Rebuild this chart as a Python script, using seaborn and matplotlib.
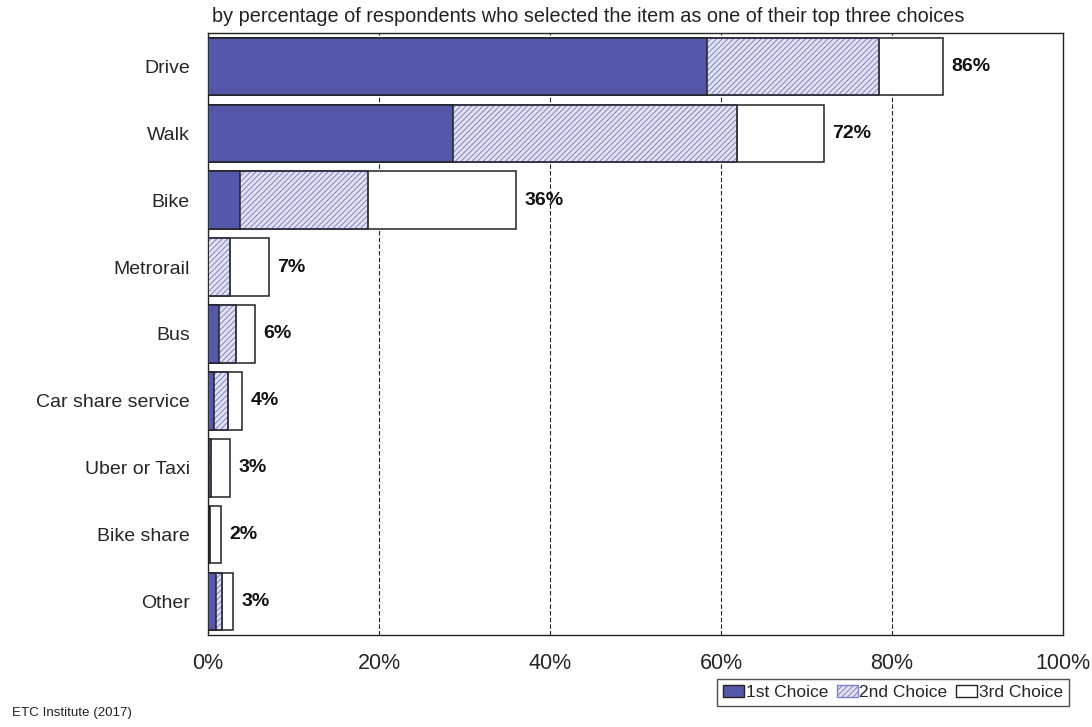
import numpy as np
import pandas as pd
import matplotlib
matplotlib.use("Agg")
import matplotlib.pyplot as plt
import matplotlib.patches as mpatches
import seaborn as sns

# data (percent of respondents)
modes = ["Drive", "Walk", "Bike", "Metrorail", "Bus", "Car share service",
         "Uber or Taxi", "Bike share", "Other"]
first = [58.4, 28.7, 3.7, 0.0, 1.3, 0.7, 0.1, 0.1, 0.9]
second = [20.1, 33.2, 15.0, 2.6, 2.0, 1.6, 0.3, 0.1, 0.7]
third = [7.5, 10.1, 17.3, 4.5, 2.2, 1.7, 2.2, 1.3, 1.3]
total_labels = ["86%", "72%", "36%", "7%", "6%", "4%", "3%", "2%", "3%"]

sns.set_style("white")
plt.rcParams["font.family"] = ["Liberation Sans", "DejaVu Sans"]
plt.rcParams["hatch.linewidth"] = 0.7

df = pd.DataFrame({"mode": modes, "first": first,
                   "second": second, "third": third})
df["c1"] = df["first"]
df["c2"] = df["first"] + df["second"]
df["c3"] = df["c2"] + df["third"]

fig = plt.figure(figsize=(10.92, 7.27), dpi=100)
ax = fig.add_axes([0.1905, 0.1266, 0.7829, 0.828])

blue = "#5558A8"
lav = "#E2E2F3"
hatch_col = "#7E82C6"
edge = "#222222"
bar_w = 0.86
# stack by overdrawing cumulative totals
sns.barplot(data=df, x="c3", y="mode", color="white", edgecolor=edge,
            linewidth=1.1, width=bar_w, ax=ax, orient="h", saturation=1,
            zorder=3)
sns.barplot(data=df, x="c2", y="mode", color=lav, edgecolor=edge,
            linewidth=1.1, width=bar_w, ax=ax, orient="h", saturation=1,
            zorder=4)
n = len(modes)
for p in ax.patches[n:2 * n]:
    p.set_hatch("//////")
    p.set_edgecolor(hatch_col)
# re-outline hatched bars in dark
for p in list(ax.patches[n:2 * n]):
    ax.add_patch(mpatches.Rectangle(p.get_xy(), p.get_width(), p.get_height(),
                                    fill=False, edgecolor=edge,
                                    linewidth=1.1, zorder=5))
sns.barplot(data=df, x="c1", y="mode", color=blue, edgecolor=edge,
            linewidth=1.1, width=bar_w, ax=ax, orient="h", saturation=1,
            zorder=6)

for i, (tot, lbl) in enumerate(zip(df["c3"], total_labels)):
    ax.text(tot + 1.0, i, lbl, va="center", ha="left", fontsize=14,
            fontweight="bold", color="#111111", zorder=7)

ax.set_xlim(0, 100)
ax.set_ylim(n - 0.5, -0.5)
ax.set_xticks([0, 20, 40, 60, 80, 100])
ax.set_xticklabels(["0%", "20%", "40%", "60%", "80%", "100%"], fontsize=15.5)
ax.tick_params(axis="y", labelsize=14, length=0, pad=13)
ax.tick_params(axis="x", length=0, pad=13)
ax.set_xlabel("")
ax.set_ylabel("")
for x in [20, 40, 60, 80]:
    ax.axvline(x, color=edge, linestyle=(0, (4, 2)), linewidth=0.8,
               zorder=1)
for s in ax.spines.values():
    s.set_color(edge)
    s.set_linewidth(1.0)
    s.set_visible(True)

ax.text(0.005, 1.012, "by percentage of respondents who selected the item as "
        "one of their top three choices", transform=ax.transAxes,
        fontsize=14.3, ha="left", va="bottom", color=edge)

handles = [
    mpatches.Patch(facecolor=blue, edgecolor=edge, label="1st Choice"),
    mpatches.Patch(facecolor=lav, edgecolor=hatch_col, hatch="//////",
                   label="2nd Choice"),
    mpatches.Patch(facecolor="white", edgecolor=edge, label="3rd Choice"),
]
leg = fig.legend(handles=handles, loc="upper right", ncol=3,
                 bbox_to_anchor=(0.979, 0.066), fontsize=12.5,
                 frameon=True, fancybox=False, handlelength=1.2,
                 handleheight=0.7, handletextpad=0.1, columnspacing=0.5,
                 borderpad=0.35, edgecolor=edge, borderaxespad=0)
leg.get_frame().set_linewidth(1.0)

fig.text(0.011, 0.015, "ETC Institute (2017)", fontsize=9.6, color=edge)

plt.savefig("out.png", dpi=100)
plt.close()
